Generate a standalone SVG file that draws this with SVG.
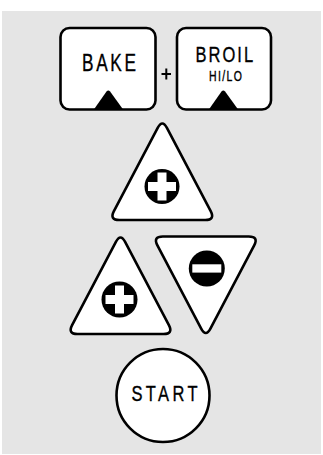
<svg xmlns="http://www.w3.org/2000/svg" width="323" height="455" viewBox="0 0 323 455">
<style>
.key{fill:#fff;stroke:#000;stroke-width:2.6;stroke-linejoin:round}
.lbl{font-family:"Liberation Sans",Arial,sans-serif;fill:#000;stroke:#000;stroke-width:0.35;text-anchor:middle}
.ink{fill:#000}
.cut{fill:#fff}
</style>
<defs>
<path id="tri" d="M4.61,8.87 L48.39,92.13 Q53,101 43,101 L-43,101 Q-53,101 -48.39,92.13 L-4.61,8.87 Q0,0 4.61,8.87 Z"/>
</defs>
<rect x="2" y="11" width="319" height="443" fill="#e5e5e5"/>
<g id="connectors"/>
<g id="bake">
<rect class="key" x="60.5" y="28" width="95" height="81.5" rx="9"/>
<path class="ink" d="M93.5,110 L106.5,91.5 Q108.3,89.5 110.1,91.5 L123.5,110 Z"/>
<text class="lbl" transform="translate(109,71) scale(0.75,1)" x="0" y="0" font-size="23" textLength="72" lengthAdjust="spacing">BAKE</text>
</g>
<g id="plus-sign">
<path d="M161.5,74 H171 M166.3,68.5 V79.5" stroke="#000" stroke-width="2"/>
</g>
<g id="broil">
<rect class="key" x="177" y="28" width="94" height="81.5" rx="9"/>
<path class="ink" d="M208.5,110 L221.5,91.5 Q223.3,89.5 225.1,91.5 L238.5,110 Z"/>
<text class="lbl" transform="translate(224.3,62) scale(0.75,1)" x="0" y="0" font-size="22" textLength="77" lengthAdjust="spacing">BROIL</text>
<text class="lbl" transform="translate(225.5,81) scale(0.75,1)" x="0" y="0" font-size="14" stroke-width="0.25" textLength="44" lengthAdjust="spacing">HI/LO</text>
</g>
<g id="up-top">
<use href="#tri" class="key" transform="translate(162.3,119)"/>
<circle class="ink" cx="162" cy="186.5" r="17.5"/>
<rect class="cut" x="148" y="182" width="28" height="9"/>
<rect class="cut" x="157.5" y="172.5" width="9" height="28"/>
</g>
<g id="up-left">
<use href="#tri" class="key" transform="translate(120.5,233)"/>
<circle class="ink" cx="119.5" cy="299.5" r="18"/>
<rect class="cut" x="105.5" y="295" width="28" height="9"/>
<rect class="cut" x="115" y="285.5" width="9" height="28"/>
</g>
<g id="down-right">
<use href="#tri" class="key" transform="translate(205.8,337.5) scale(1,-1)"/>
<circle class="ink" cx="206.8" cy="268.5" r="18"/>
<rect class="cut" x="192.3" y="264.3" width="29" height="8.3"/>
</g>
<g id="start">
<circle class="key" cx="163" cy="395.5" r="46.5"/>
<text class="lbl" transform="translate(164.5,400.7) scale(0.75,1)" x="0" y="0" font-size="22" textLength="88" lengthAdjust="spacing">START</text>
</g>
</svg>
